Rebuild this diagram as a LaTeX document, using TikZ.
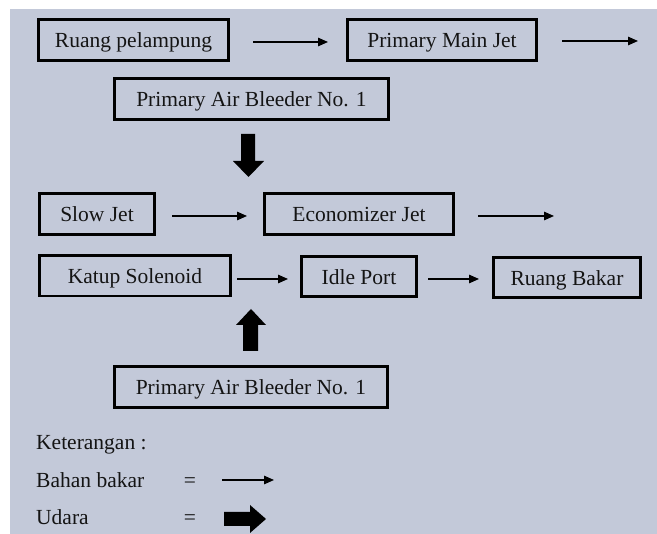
\documentclass[tikz,border=0pt]{standalone}
\usepackage{fontspec}
\setmainfont{Liberation Serif}
\usetikzlibrary{arrows.meta,calc}
\definecolor{bgc}{RGB}{195,201,217}
\definecolor{ink}{RGB}{20,20,20}
\begin{document}
\begin{tikzpicture}[x=1pt,y=-1pt,
  box/.style={draw=black, line width=2.6pt, rectangle, inner sep=0pt,
    minimum height=41.4pt, text height=15.5pt, text depth=0pt, text=ink,
    font=\fontsize{21.5}{24}\selectfont},
  flow/.style={draw=black, line width=1.3pt, -{Triangle[length=10pt,width=8.5pt]}},
  airarrow/.style={fill=black},
  lbl/.style={anchor=base west, inner sep=0pt, text=ink, font=\fontsize{21.5}{24}\selectfont},
  eqs/.style={anchor=base, inner sep=0pt, text=ink, font=\fontsize{21.5}{24}\selectfont}]
\useasboundingbox (0,0) rectangle (657,534);
\fill[white] (0,0) rectangle (657,534);
\fill[bgc] (10,9) rectangle (657,534);

% boxes
\node[box, minimum width=190.4pt] (rp) at (133.5,40) {Ruang pelampung};
\node[box, minimum width=189.4pt] (pmj) at (442,40) {Primary Main Jet};
\node[box, minimum width=274.4pt] (pab1) at (251.5,99) {Primary Air Bleeder No. 1};
\node[box, minimum width=115.4pt] (sj) at (97,214) {Slow Jet};
\node[box, minimum width=189.4pt] (ej) at (359,214) {Economizer Jet};
\node[box, minimum width=191.4pt, minimum height=40.4pt] (ks) at (135,276) {Katup Solenoid};
\node[box, minimum width=115.4pt, minimum height=40.4pt] (ip) at (359,276.5) {Idle Port};
\node[box, minimum width=147.4pt, minimum height=40.4pt] (rb) at (567,277.5) {Ruang Bakar};
\node[box, minimum width=273.4pt] (pab2) at (251,387) {Primary Air Bleeder No. 1};

% free ends
\coordinate (e1) at (638,41);
\coordinate (e2) at (554,216);

% fuel arrows
\draw[flow] ($(rp.east)+(23,2)$) -- ($(pmj.west)+(-18,2)$);
\draw[flow] ($(pmj.east)+(24,1)$) -- (e1);
\draw[flow] ($(sj.east)+(16,2)$) -- ($(ej.west)+(-16,2)$);
\draw[flow] ($(ej.east)+(23,2)$) -- (e2);
\draw[flow] ($(ks.east)+(5,3)$) -- ($(ip.west |- ks.east)+(-12,3)$);
\draw[flow] ($(ip.east)+(10,2.5)$) -- ($(rb.west |- ip.east)+(-13,2.5)$);

% air arrows
\coordinate (dtip) at (248.5,177);
\fill[airarrow] (dtip) -- ++(15.5,-16) -- ++(-9,0) -- ++(0,-27) -- ++(-14,0) -- ++(0,27) -- ++(-8,0) -- cycle;
\coordinate (utip) at (251,309);
\fill[airarrow] (utip) -- ++(15,16) -- ++(-8,0) -- ++(0,26) -- ++(-15,0) -- ++(0,-26) -- ++(-7,0) -- cycle;

% legend
\node[lbl] (ket) at (36,450) {Keterangan :};
\node[lbl] (bb) at (36,488) {Bahan bakar};
\node[lbl] (ud) at (36,525) {Udara};
\node[eqs] (eq1) at (190,488) {=};
\node[eqs] (eq2) at (190,525) {=};
\coordinate (l1) at (222,480);
\coordinate (l2) at (274,480);
\draw[flow] (l1) -- (l2);
\coordinate (ltip) at (266,519);
\fill[airarrow] (ltip) -- ++(-16,-14) -- ++(0,7) -- ++(-26,0) -- ++(0,14) -- ++(26,0) -- ++(0,7) -- cycle;
\end{tikzpicture}
\end{document}
